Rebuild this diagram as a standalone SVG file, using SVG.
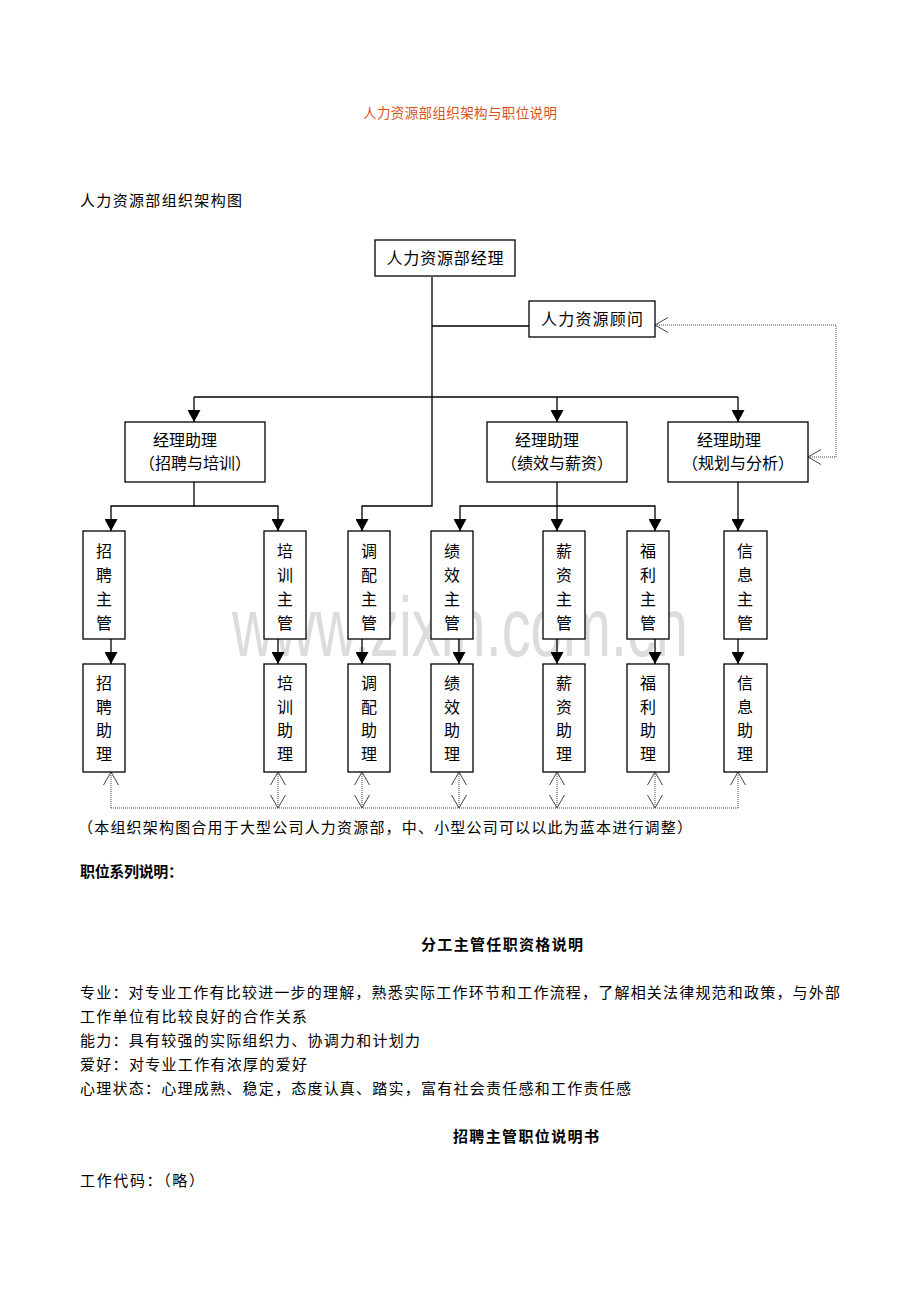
<svg xmlns="http://www.w3.org/2000/svg" width="920" height="1302" viewBox="0 0 920 1302">
<style>
text{font-family:"Noto Sans CJK SC","Noto Sans",sans-serif;fill:#000}
.box{fill:#fff;stroke:#000;stroke-width:1.3}
.ln{fill:none;stroke:#000;stroke-width:1.3}
.dot{fill:none;stroke:#444;stroke-width:1;stroke-dasharray:1,1}
.n{font-size:16px;text-anchor:middle}
.v{font-size:16px;text-anchor:middle}
.body{font-size:15px}
.b{font-size:15px;font-weight:bold}
.wm{font-family:"Liberation Sans",Arial,sans-serif;fill:#dcdcdc}
</style>
<defs>
<marker id="tri" markerUnits="userSpaceOnUse" markerWidth="13" markerHeight="13" refX="12" refY="6.5" orient="auto">
<path d="M0,0 L12,6.5 L0,13 z" fill="#000"/>
</marker>
<marker id="open" markerUnits="userSpaceOnUse" markerWidth="16" markerHeight="18" refX="14" refY="8" orient="auto-start-reverse">
<path d="M1,0.5 L14,8 L1,15.5" fill="none" stroke="#444" stroke-width="1"/>
</marker>
</defs>

<text x="460" y="118" font-size="13.5" text-anchor="middle" style="fill:#d9531e" textLength="194">人力资源部组织架构与职位说明</text>
<text x="80" y="206" class="body" textLength="162">人力资源部组织架构图</text>

<text class="wm" transform="translate(232,656) scale(1,1.45)" font-size="57" textLength="456" lengthAdjust="spacingAndGlyphs">www.zixin.com.cn</text>

<g id="connectors">
<path class="ln" d="M432,277 V506 H362 V531" marker-end="url(#tri)"/>
<path class="ln" d="M432,326 H529"/>
<path class="ln" d="M194,397 H738"/>
<path class="ln" d="M194,397 V422" marker-end="url(#tri)"/>
<path class="ln" d="M557,397 V422" marker-end="url(#tri)"/>
<path class="ln" d="M738,397 V422" marker-end="url(#tri)"/>
<path class="ln" d="M194,482 V506 H111 V531" marker-end="url(#tri)"/>
<path class="ln" d="M194,506 H278 V531" marker-end="url(#tri)"/>
<path class="ln" d="M557,482 V531" marker-end="url(#tri)"/>
<path class="ln" d="M557,506 H460 V531" marker-end="url(#tri)"/>
<path class="ln" d="M557,506 H655 V531" marker-end="url(#tri)"/>
<path class="ln" d="M738,482 V531" marker-end="url(#tri)"/>
<path class="ln" d="M111,639 V664" marker-end="url(#tri)"/>
<path class="ln" d="M278,639 V664" marker-end="url(#tri)"/>
<path class="ln" d="M362,639 V664" marker-end="url(#tri)"/>
<path class="ln" d="M459,639 V664" marker-end="url(#tri)"/>
<path class="ln" d="M557,639 V664" marker-end="url(#tri)"/>
<path class="ln" d="M655,639 V664" marker-end="url(#tri)"/>
<path class="ln" d="M738,639 V664" marker-end="url(#tri)"/>
<path class="dot" d="M808,457 H836 V325 H655" marker-start="url(#open)" marker-end="url(#open)"/>
<path class="dot" d="M111,808 H738"/>
<path class="dot" d="M111,808 V772" marker-end="url(#open)"/>
<path class="dot" d="M738,808 V772" marker-end="url(#open)"/>
<path class="dot" d="M278,772 V808" marker-start="url(#open)" marker-end="url(#open)"/>
<path class="dot" d="M362,772 V808" marker-start="url(#open)" marker-end="url(#open)"/>
<path class="dot" d="M459,772 V808" marker-start="url(#open)" marker-end="url(#open)"/>
<path class="dot" d="M557,772 V808" marker-start="url(#open)" marker-end="url(#open)"/>
<path class="dot" d="M655,772 V808" marker-start="url(#open)" marker-end="url(#open)"/>
</g>

<g id="manager"><rect class="box" x="375" y="240" width="140" height="36"/><text class="n" x="445" y="264" textLength="117">人力资源部经理</text></g>
<g id="advisor"><rect class="box" x="529" y="301" width="126" height="36"/><text class="n" x="592" y="325" textLength="102">人力资源顾问</text></g>

<g id="asst-recruit"><rect class="box" x="125" y="422" width="140" height="60"/><text class="n" x="185" y="446">经理助理</text><text class="n" x="195" y="469">（招聘与培训）</text></g>
<g id="asst-perf"><rect class="box" x="487" y="422" width="140" height="60"/><text class="n" x="547" y="446">经理助理</text><text class="n" x="557" y="469">（绩效与薪资）</text></g>
<g id="asst-plan"><rect class="box" x="668" y="422" width="140" height="60"/><text class="n" x="729" y="446">经理助理</text><text class="n" x="738" y="469">（规划与分析）</text></g>

<g id="sup-recruit"><rect class="box" x="83" y="531" width="42" height="108"/><text class="v" x="104" y="557">招<tspan x="104" dy="24">聘</tspan><tspan x="104" dy="24">主</tspan><tspan x="104" dy="24">管</tspan></text></g>
<g id="sup-train"><rect class="box" x="264" y="531" width="42" height="108"/><text class="v" x="285" y="557">培<tspan x="285" dy="24">训</tspan><tspan x="285" dy="24">主</tspan><tspan x="285" dy="24">管</tspan></text></g>
<g id="sup-deploy"><rect class="box" x="348" y="531" width="42" height="108"/><text class="v" x="369" y="557">调<tspan x="369" dy="24">配</tspan><tspan x="369" dy="24">主</tspan><tspan x="369" dy="24">管</tspan></text></g>
<g id="sup-perf"><rect class="box" x="431" y="531" width="42" height="108"/><text class="v" x="452" y="557">绩<tspan x="452" dy="24">效</tspan><tspan x="452" dy="24">主</tspan><tspan x="452" dy="24">管</tspan></text></g>
<g id="sup-pay"><rect class="box" x="543" y="531" width="42" height="108"/><text class="v" x="564" y="557">薪<tspan x="564" dy="24">资</tspan><tspan x="564" dy="24">主</tspan><tspan x="564" dy="24">管</tspan></text></g>
<g id="sup-welfare"><rect class="box" x="627" y="531" width="42" height="108"/><text class="v" x="648" y="557">福<tspan x="648" dy="24">利</tspan><tspan x="648" dy="24">主</tspan><tspan x="648" dy="24">管</tspan></text></g>
<g id="sup-info"><rect class="box" x="724" y="531" width="43" height="108"/><text class="v" x="745" y="557">信<tspan x="745" dy="24">息</tspan><tspan x="745" dy="24">主</tspan><tspan x="745" dy="24">管</tspan></text></g>

<g id="as-recruit"><rect class="box" x="83" y="664" width="42" height="108"/><text class="v" x="104" y="689">招<tspan x="104" dy="23.5">聘</tspan><tspan x="104" dy="23.5">助</tspan><tspan x="104" dy="23.5">理</tspan></text></g>
<g id="as-train"><rect class="box" x="264" y="664" width="42" height="108"/><text class="v" x="285" y="689">培<tspan x="285" dy="23.5">训</tspan><tspan x="285" dy="23.5">助</tspan><tspan x="285" dy="23.5">理</tspan></text></g>
<g id="as-deploy"><rect class="box" x="348" y="664" width="42" height="108"/><text class="v" x="369" y="689">调<tspan x="369" dy="23.5">配</tspan><tspan x="369" dy="23.5">助</tspan><tspan x="369" dy="23.5">理</tspan></text></g>
<g id="as-perf"><rect class="box" x="431" y="664" width="42" height="108"/><text class="v" x="452" y="689">绩<tspan x="452" dy="23.5">效</tspan><tspan x="452" dy="23.5">助</tspan><tspan x="452" dy="23.5">理</tspan></text></g>
<g id="as-pay"><rect class="box" x="543" y="664" width="42" height="108"/><text class="v" x="564" y="689">薪<tspan x="564" dy="23.5">资</tspan><tspan x="564" dy="23.5">助</tspan><tspan x="564" dy="23.5">理</tspan></text></g>
<g id="as-welfare"><rect class="box" x="627" y="664" width="42" height="108"/><text class="v" x="648" y="689">福<tspan x="648" dy="23.5">利</tspan><tspan x="648" dy="23.5">助</tspan><tspan x="648" dy="23.5">理</tspan></text></g>
<g id="as-info"><rect class="box" x="724" y="664" width="43" height="108"/><text class="v" x="745" y="689">信<tspan x="745" dy="23.5">息</tspan><tspan x="745" dy="23.5">助</tspan><tspan x="745" dy="23.5">理</tspan></text></g>

<text x="78" y="833" class="body" textLength="614">（本组织架构图合用于大型公司人力资源部，中、小型公司可以以此为蓝本进行调整）</text>
<text x="80" y="877" class="b" textLength="103">职位系列说明：</text>
<text x="421" y="950" class="b" textLength="162">分工主管任职资格说明</text>
<text x="80" y="998" class="body" textLength="760">专业：对专业工作有比较进一步的理解，熟悉实际工作环节和工作流程，了解相关法律规范和政策，与外部</text>
<text x="80" y="1022" class="body" textLength="227">工作单位有比较良好的合作关系</text>
<text x="80" y="1046" class="body" textLength="340">能力：具有较强的实际组织力、协调力和计划力</text>
<text x="80" y="1070" class="body" textLength="227">爱好：对专业工作有浓厚的爱好</text>
<text x="80" y="1094" class="body" textLength="551">心理状态：心理成熟、稳定，态度认真、踏实，富有社会责任感和工作责任感</text>
<text x="453" y="1142" class="b" textLength="146">招聘主管职位说明书</text>
<text x="80" y="1186" class="body" textLength="124">工作代码：（略）</text>
</svg>
